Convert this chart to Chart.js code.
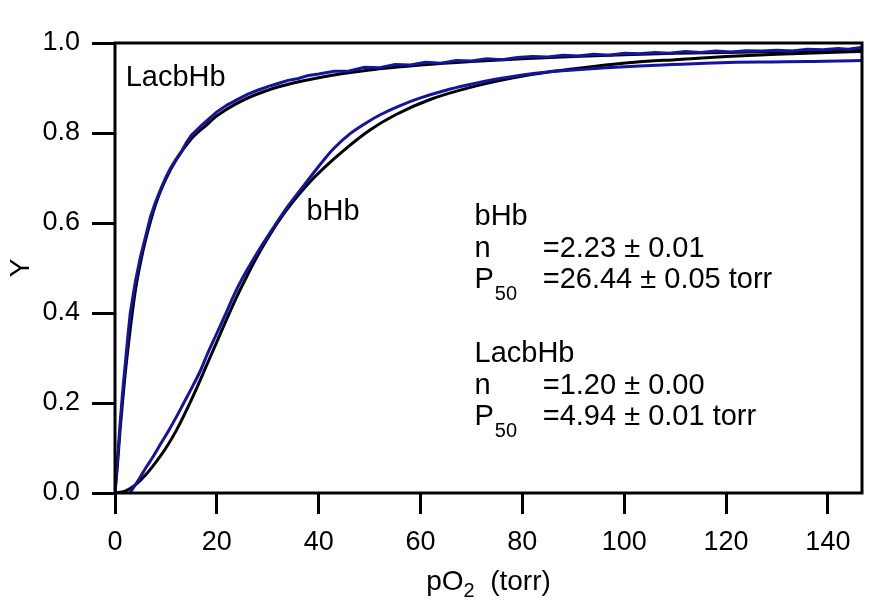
<!DOCTYPE html>
<html>
<head>
<meta charset="utf-8">
<script src="https://cdn.jsdelivr.net/npm/chart.js@4.4.1/dist/chart.umd.min.js"></script>
<style>
html, body { margin: 0; padding: 0; background: #fff; }
</style>
</head>
<body>
<canvas id="c" width="887" height="614"></canvas>
<script>
// LacbHb measured curve (noisy blue trace)
var lacX = [0, 0.5, 1, 1.5, 2, 2.5, 3, 3.5, 4, 5, 6, 7, 8, 9, 10, 11, 12, 13, 14, 15, 16, 17, 18, 19, 20,
    22, 24, 26, 28, 30, 32, 34, 36, 38, 40, 43, 46, 49, 52, 55, 58, 61, 64, 67, 70, 73, 76, 79, 82, 85,
    88, 91, 94, 97, 100, 103, 106, 109, 112, 115, 118, 121, 124, 127, 130, 133, 136, 139, 142, 144, 146.5]
var lacY = [0, 0.075, 0.155, 0.225, 0.285, 0.345, 0.4, 0.435, 0.47, 0.525, 0.57, 0.615, 0.648, 0.676, 0.702,
    0.724, 0.742, 0.758, 0.778, 0.795, 0.806, 0.817, 0.827, 0.837, 0.847,
    0.862, 0.874, 0.886, 0.895, 0.903, 0.91, 0.917, 0.921, 0.928, 0.931, 0.937, 0.938, 0.946, 0.945, 0.952,
    0.951, 0.957, 0.955, 0.961, 0.96, 0.965, 0.963, 0.968, 0.97, 0.969,
    0.973, 0.971, 0.975, 0.973, 0.977, 0.976, 0.979, 0.977, 0.981, 0.979, 0.982, 0.98, 0.983, 0.982,
    0.984, 0.982, 0.986, 0.985, 0.988, 0.986, 0.99]

// LacbHb fit (black)
var lacFitX = [0, 0.5, 1, 1.5, 2, 3, 4, 5, 6, 8, 10, 12, 15, 18, 20, 25, 30, 35, 40, 50, 60, 70, 80, 90,
    100, 110, 120, 130, 140, 146.5]
var lacFitY = [0, 0.065, 0.14, 0.205, 0.265, 0.365, 0.45, 0.512, 0.562, 0.642, 0.698, 0.74, 0.787, 0.818,
    0.838, 0.872, 0.895, 0.911, 0.923, 0.94, 0.951, 0.959, 0.965, 0.97, 0.974, 0.977, 0.979, 0.981, 0.983, 0.984]

// bHb measured curve (blue)
var bhbX = [2.9, 4, 5, 6, 7.5, 9, 10.5, 12, 13.5, 15, 16.7, 18, 20, 22, 23.2, 25, 27, 29, 31.7, 34, 36.3,
    38.9, 41, 43, 46, 49.4, 52, 56, 60, 65, 69, 75, 80, 84.6, 90, 96.4, 103, 109.4, 116, 122, 129, 136, 142, 146.5]
var bhbY = [0, 0.018, 0.036, 0.055, 0.081, 0.11, 0.138, 0.168, 0.2, 0.232, 0.27, 0.305, 0.355, 0.405, 0.436,
    0.477, 0.516, 0.553, 0.6, 0.638, 0.672, 0.71, 0.74, 0.766, 0.797, 0.823, 0.84, 0.861, 0.878, 0.895, 0.906,
    0.92, 0.929, 0.935, 0.94, 0.945, 0.949, 0.952, 0.955, 0.957, 0.958, 0.959, 0.96, 0.961]

// bHb fit (black)
var bhbFitX = [0, 2, 4, 6, 8, 10, 12, 14, 16, 18, 20, 22, 24, 26, 28, 30, 32, 35, 38, 41, 45, 50, 55, 62,
    70, 78, 86, 94, 102, 110, 120, 130, 140, 146.5]
var bhbFitY = [0, 0.004, 0.018, 0.04, 0.068, 0.1, 0.138, 0.183, 0.232, 0.284, 0.336, 0.388, 0.438, 0.484,
    0.527, 0.566, 0.602, 0.648, 0.688, 0.722, 0.762, 0.806, 0.84, 0.875, 0.902, 0.922, 0.937, 0.948, 0.957,
    0.963, 0.97, 0.975, 0.979, 0.981]

var xTicks = [0, 20, 40, 60, 80, 100, 120, 140]
var yTicks = [0, 0.2, 0.4, 0.6, 0.8, 1.0]

var FONT = '"Liberation Sans", Arial, Helvetica, sans-serif'
var BLUE = '#1414a0'

function pts(xs, ys) {
    var out = []
    for (var i = 0; i < xs.length; i++) out.push({ x: xs[i], y: ys[i] })
    return out
}

// frame, axis titles and the text notes
var extras = {
    id: 'extras',
    afterDatasetsDraw: function (chart) {
        var ctx = chart.ctx, a = chart.chartArea
        var xs = chart.scales.x, ys = chart.scales.y
        ctx.save()
        ctx.strokeStyle = '#000'
        ctx.lineWidth = 3
        ctx.strokeRect(a.left, a.top, a.right - a.left, a.bottom - a.top)

        ctx.fillStyle = '#000'
        ctx.textBaseline = 'alphabetic'
        ctx.textAlign = 'left'
        ctx.font = '29px ' + FONT

        // curve labels
        ctx.fillText('LacbHb', xs.getPixelForValue(2.1), ys.getPixelForValue(0.904))
        ctx.fillText('bHb', xs.getPixelForValue(37.6), ys.getPixelForValue(0.607))

        // fit results
        var colA = xs.getPixelForValue(70.6)
        var colB = xs.getPixelForValue(84)
        function block(name, y0, nTxt, pTxt) {
            var b0 = ys.getPixelForValue(y0)
            ctx.font = '29px ' + FONT
            ctx.fillText(name, colA, b0)
            ctx.fillText('n', colA, b0 + 32)
            ctx.fillText(nTxt, colB, b0 + 32)
            ctx.fillText('P', colA, b0 + 63)
            ctx.fillText(pTxt, colB, b0 + 63)
            var pw = ctx.measureText('P').width
            ctx.font = '20px ' + FONT
            ctx.fillText('50', colA + pw + 1, b0 + 75)
        }
        block('bHb', 0.596, '=2.23 \u00b1 0.01', '=26.44 \u00b1 0.05 torr')
        block('LacbHb', 0.291, '=1.20 \u00b1 0.00', '=4.94 \u00b1 0.01 torr')

        // x title with subscript
        ctx.font = '28px ' + FONT
        var t1 = 'pO', t2 = '2', t3 = '  (torr)'
        var w1 = ctx.measureText(t1).width, w3 = ctx.measureText(t3).width
        ctx.font = '20px ' + FONT
        var w2 = ctx.measureText(t2).width
        var cx = (a.left + a.right) / 2
        var sx = cx - (w1 + w2 + w3) / 2
        var by = 590
        ctx.font = '28px ' + FONT
        ctx.fillText(t1, sx, by)
        ctx.fillText(t3, sx + w1 + w2, by)
        ctx.font = '20px ' + FONT
        ctx.fillText(t2, sx + w1, by + 7)

        // y title
        ctx.font = '28px ' + FONT
        ctx.translate(21, (a.top + a.bottom) / 2)
        ctx.rotate(-Math.PI / 2)
        ctx.textAlign = 'center'
        ctx.textBaseline = 'middle'
        ctx.fillText('Y', 0, 0)
        ctx.restore()
    }
}

new Chart(document.getElementById('c'), {
    type: 'line',
    data: {
        datasets: [
            { label: 'LacbHb', data: pts(lacX, lacY), borderColor: BLUE, borderWidth: 3, tension: 0, order: 0 },
            { label: 'bHb', data: pts(bhbX, bhbY), borderColor: BLUE, borderWidth: 3, cubicInterpolationMode: 'monotone', order: 0 },
            { label: 'LacbHb fit', data: pts(lacFitX, lacFitY), borderColor: '#000', borderWidth: 3, cubicInterpolationMode: 'monotone', order: 1 },
            { label: 'bHb fit', data: pts(bhbFitX, bhbFitY), borderColor: '#000', borderWidth: 3, cubicInterpolationMode: 'monotone', order: 1 }
        ]
    },
    options: {
        responsive: false,
        animation: false,
        devicePixelRatio: 1,
        layout: { padding: { left: 0, right: 25, top: 43, bottom: 0 } },
        elements: { point: { radius: 0 } },
        plugins: { legend: { display: false }, tooltip: { enabled: false } },
        scales: {
            x: {
                type: 'linear',
                min: 0,
                max: 146.7,
                afterFit: function (s) { s.height = 121 },
                afterBuildTicks: function (s) { s.ticks = xTicks.map(function (v) { return { value: v } }) },
                border: { display: false },
                grid: { drawOnChartArea: false, drawTicks: true, tickLength: 21, lineWidth: 3, color: '#000' },
                ticks: { color: '#000', padding: 12, font: { family: FONT, size: 27 }, maxRotation: 0 }
            },
            y: {
                type: 'linear',
                min: 0,
                max: 1,
                afterFit: function (s) { s.width = 115 },
                afterBuildTicks: function (s) { s.ticks = yTicks.map(function (v) { return { value: v } }) },
                border: { display: false },
                grid: { drawOnChartArea: false, drawTicks: true, tickLength: 23, lineWidth: 3, color: '#000' },
                ticks: {
                    color: '#000', padding: 12, font: { family: FONT, size: 27 },
                    callback: function (v) { return Number(v).toFixed(1) }
                }
            }
        }
    },
    plugins: [extras]
});
</script>
</body>
</html>
